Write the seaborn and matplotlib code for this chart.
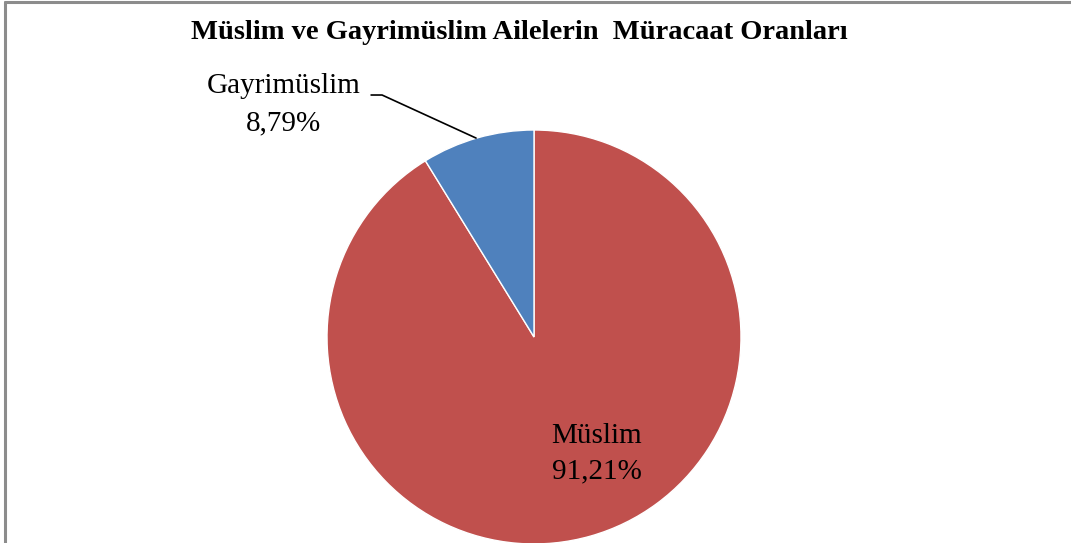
import matplotlib
matplotlib.use("Agg")
import matplotlib.pyplot as plt
import seaborn as sns

# Data
labels = ["Müslim", "Gayrimüslim"]
values = [91.21, 8.79]
colors = ["#C0504D", "#4F81BD"]
pct_text = ["91,21%", "8,79%"]

sns.set_style("white")
plt.rcParams["font.family"] = ["Liberation Serif", "DejaVu Serif"]
plt.rcParams["text.color"] = "black"

fig = plt.figure(figsize=(10.71, 5.43), dpi=100)

# chart border (left and top visible)
fig.add_artist(plt.Line2D([0.005, 0.005], [0, 0.996], color="#8c8c8c", lw=2.2))
fig.add_artist(plt.Line2D([0.005, 1.0], [0.996, 0.996], color="#8c8c8c", lw=2.2))

fig.text(0.485, 0.940, "Müslim ve Gayrimüslim Ailelerin  Müracaat Oranları",
         ha="center", va="center", fontsize=20.5, fontweight="bold")

ax = fig.add_axes([0.3053, -0.0018, 0.3866, 0.7624])
ax.pie(values, colors=colors, startangle=90, counterclock=False,
       wedgeprops=dict(edgecolor="white", linewidth=1.0))
ax.set_xlim(-1, 1)
ax.set_ylim(-1, 1)
ax.set_aspect("equal")
ax.axis("off")

# labels
ax.text(0.304, -0.565, f"{labels[0]}\n{pct_text[0]}", ha="center", va="center",
        fontsize=21, linespacing=1.45)
ax.text(-1.21, 1.123, f"{labels[1]}\n{pct_text[1]}", ha="center", va="center",
        fontsize=21, linespacing=1.55, clip_on=False)
ax.plot([-0.787, -0.734, -0.280], [1.169, 1.169, 0.961], color="black", lw=1.2,
        clip_on=False)

fig.savefig("out.png", dpi=100)
